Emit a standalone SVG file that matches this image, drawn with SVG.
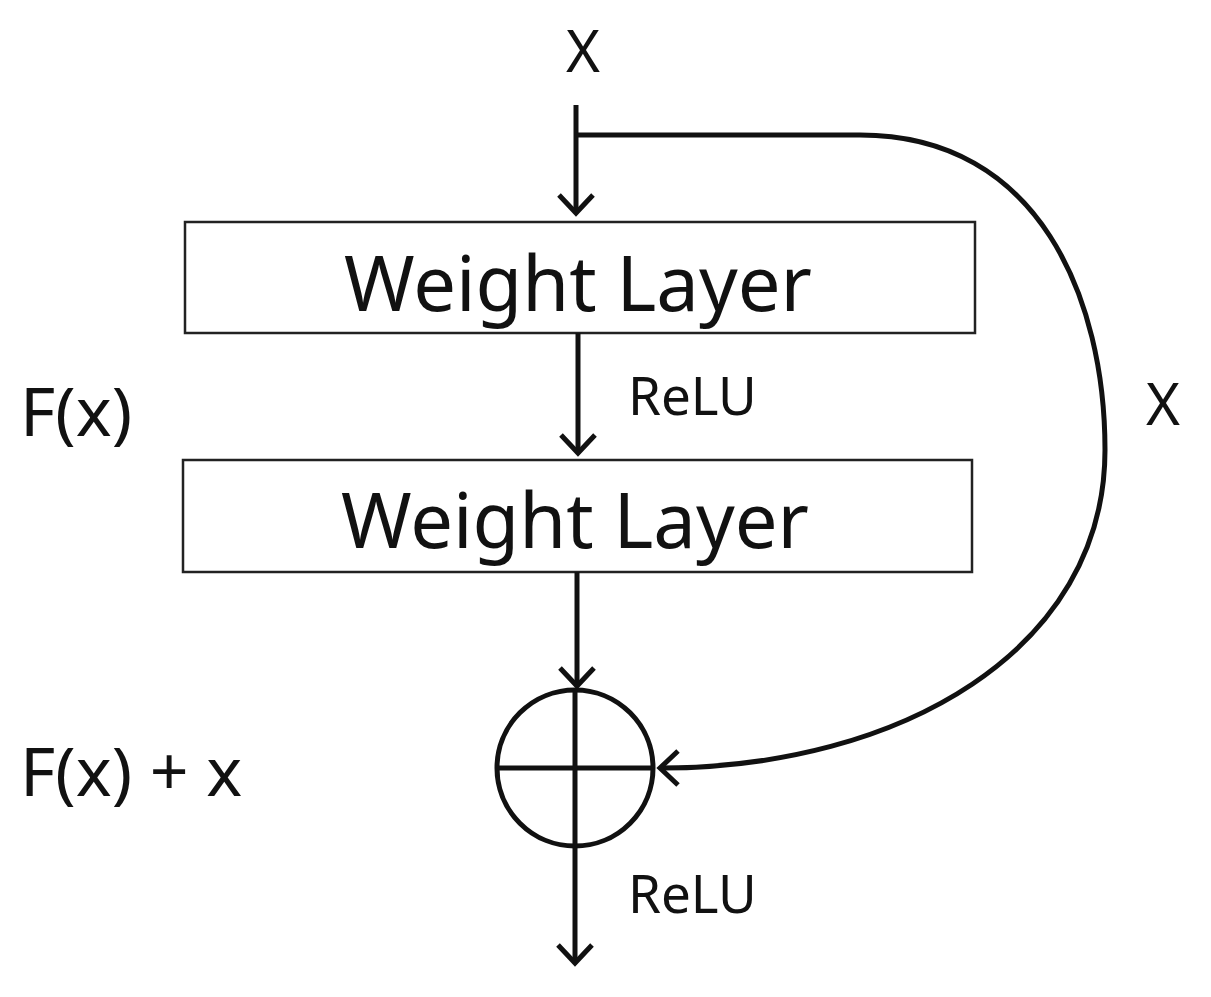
<svg xmlns="http://www.w3.org/2000/svg" width="1211" height="997" viewBox="0 0 1211 997">
<style>
.t{font-family:"Noto Sans","DejaVu Sans",sans-serif;fill:#111}
.ln{fill:none;stroke:#111;stroke-width:5}
.box{fill:#fff;stroke:#222;stroke-width:2.5}
</style>
<defs>
<marker id="a" markerUnits="userSpaceOnUse" markerWidth="40" markerHeight="40" refX="20" refY="20" orient="auto" viewBox="0 0 40 40">
<path d="M2,3 L20,20 L2,37" fill="none" stroke="#111" stroke-width="5"/>
</marker>
</defs>
<rect width="1211" height="997" fill="#fff"/>
<text class="t" x="583" y="72" font-size="58" text-anchor="middle">X</text>
<g id="box1"><rect class="box" x="185" y="222" width="790" height="111"/><text class="t" x="578" y="311" font-size="76" text-anchor="middle">Weight  Layer</text></g>
<g id="box2"><rect class="box" x="183" y="460" width="789" height="112"/><text class="t" x="575" y="548" font-size="76" text-anchor="middle">Weight  Layer</text></g>
<g id="add"><circle class="ln" cx="575" cy="768" r="78"/><line class="ln" x1="497" y1="768" x2="653" y2="768"/><line class="ln" x1="575" y1="690" x2="575" y2="846"/></g>
<g id="connectors">
<line class="ln" x1="576" y1="105" x2="576" y2="213" marker-end="url(#a)"/>
<line class="ln" x1="578" y1="333" x2="578" y2="453" marker-end="url(#a)"/>
<line class="ln" x1="577" y1="572" x2="577" y2="686" marker-end="url(#a)"/>
<line class="ln" x1="575" y1="846" x2="575" y2="963" marker-end="url(#a)"/>
<path class="ln" d="M576,135 L860,135 C1040,135 1105,300 1105,450 C1105,650 900,768 660,768" marker-end="url(#a)"/>
</g>
<text class="t" x="628" y="415" font-size="53">ReLU</text>
<text class="t" x="628" y="913" font-size="53">ReLU</text>
<text class="t" x="20" y="436" font-size="68">F(x)</text>
<text class="t" x="20" y="796" font-size="68">F(x) + x</text>
<text class="t" x="1146" y="425" font-size="58">X</text>
</svg>
